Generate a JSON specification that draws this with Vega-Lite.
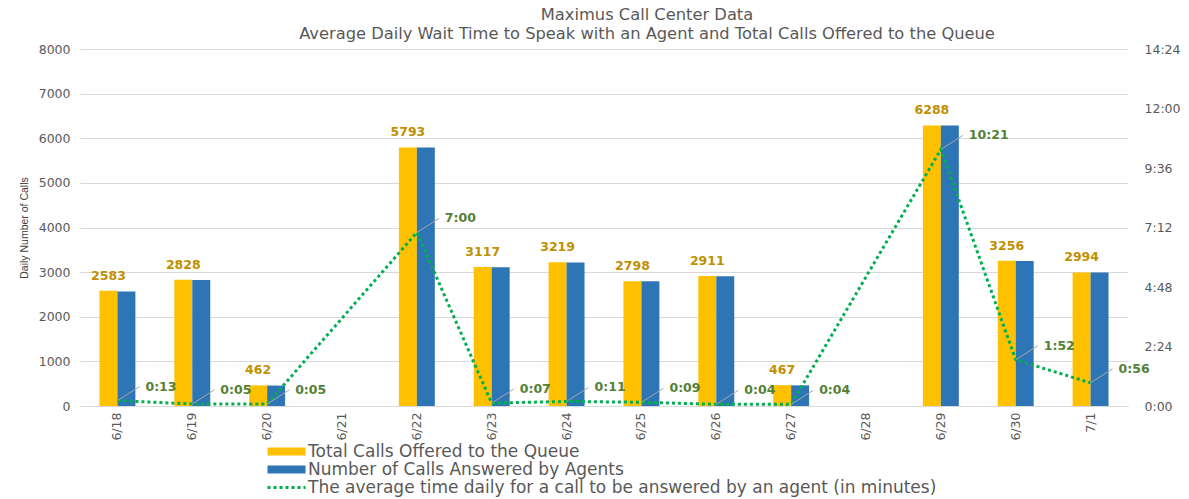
{
  "$schema": "https://vega.github.io/schema/vega-lite/v6.json",
  "autosize": {"type": "none"},
  "padding": {"left": 80, "top": 49, "right": 61, "bottom": 93},
  "width": 1048,
  "height": 357,
  "background": "#ffffff",
  "config": {
    "font": "DejaVu Sans",
    "view": {"stroke": null},
    "axis": {"labelFont": "DejaVu Sans", "labelFontSize": 12.5, "labelColor": "#595959", "ticks": false, "gridColor": "#D9D9D9", "domainColor": "#D9D9D9"}
  },
  "title": {
    "text": ["Maximus Call Center Data", "Average Daily Wait Time to Speak with an Agent and Total Calls Offered to the Queue"],
    "font": "DejaVu Sans", "fontSize": 16.3, "fontWeight": "normal", "color": "#595959",
    "anchor": "middle", "dx": 43, "offset": 1, "lineHeight": 19
  },
  "datasets": {
    "calls": [
      {"date": "6/18", "series": "Total Calls Offered to the Queue", "calls": 2583},
      {"date": "6/18", "series": "Number of Calls Answered by Agents", "calls": 2565},
      {"date": "6/19", "series": "Total Calls Offered to the Queue", "calls": 2828},
      {"date": "6/19", "series": "Number of Calls Answered by Agents", "calls": 2822},
      {"date": "6/20", "series": "Total Calls Offered to the Queue", "calls": 462},
      {"date": "6/20", "series": "Number of Calls Answered by Agents", "calls": 458},
      {"date": "6/22", "series": "Total Calls Offered to the Queue", "calls": 5793},
      {"date": "6/22", "series": "Number of Calls Answered by Agents", "calls": 5790},
      {"date": "6/23", "series": "Total Calls Offered to the Queue", "calls": 3117},
      {"date": "6/23", "series": "Number of Calls Answered by Agents", "calls": 3110},
      {"date": "6/24", "series": "Total Calls Offered to the Queue", "calls": 3219},
      {"date": "6/24", "series": "Number of Calls Answered by Agents", "calls": 3215},
      {"date": "6/25", "series": "Total Calls Offered to the Queue", "calls": 2798},
      {"date": "6/25", "series": "Number of Calls Answered by Agents", "calls": 2795},
      {"date": "6/26", "series": "Total Calls Offered to the Queue", "calls": 2911},
      {"date": "6/26", "series": "Number of Calls Answered by Agents", "calls": 2905},
      {"date": "6/27", "series": "Total Calls Offered to the Queue", "calls": 467},
      {"date": "6/27", "series": "Number of Calls Answered by Agents", "calls": 463},
      {"date": "6/29", "series": "Total Calls Offered to the Queue", "calls": 6288},
      {"date": "6/29", "series": "Number of Calls Answered by Agents", "calls": 6283},
      {"date": "6/30", "series": "Total Calls Offered to the Queue", "calls": 3256},
      {"date": "6/30", "series": "Number of Calls Answered by Agents", "calls": 3250},
      {"date": "7/1", "series": "Total Calls Offered to the Queue", "calls": 2994},
      {"date": "7/1", "series": "Number of Calls Answered by Agents", "calls": 2990}
    ],
    "wait": [
      {"date": "6/18", "seconds": 13, "label": "0:13"},
      {"date": "6/19", "seconds": 5, "label": "0:05"},
      {"date": "6/20", "seconds": 5, "label": "0:05"},
      {"date": "6/22", "seconds": 420, "label": "7:00"},
      {"date": "6/23", "seconds": 7, "label": "0:07"},
      {"date": "6/24", "seconds": 11, "label": "0:11"},
      {"date": "6/25", "seconds": 9, "label": "0:09"},
      {"date": "6/26", "seconds": 4, "label": "0:04"},
      {"date": "6/27", "seconds": 4, "label": "0:04"},
      {"date": "6/29", "seconds": 621, "label": "10:21"},
      {"date": "6/30", "seconds": 112, "label": "1:52"},
      {"date": "7/1", "seconds": 56, "label": "0:56"}
    ]
  },
  "encoding": {
    "x": {
      "field": "date", "type": "nominal", "title": null,
      "scale": {"domain": ["6/18","6/19","6/20","6/21","6/22","6/23","6/24","6/25","6/26","6/27","6/28","6/29","6/30","7/1"], "paddingInner": 0.52, "paddingOuter": 0.26},
      "axis": {"labelAngle": -90, "labelPadding": 6, "domain": true, "grid": false}
    }
  },
  "layer": [
    {
      "layer": [
        {
          "data": {"name": "calls"},
          "mark": {"type": "bar"},
          "encoding": {
            "xOffset": {"field": "series", "type": "nominal", "scale": {"domain": ["Total Calls Offered to the Queue", "Number of Calls Answered by Agents"], "paddingInner": 0, "paddingOuter": 0}},
            "y": {"field": "calls", "type": "quantitative", "title": "Daily Number of Calls",
              "scale": {"domain": [0, 8000], "nice": false},
              "axis": {"values": [0,1000,2000,3000,4000,5000,6000,7000,8000], "format": "d", "domain": false, "labelPadding": 10, "titleFont": "Liberation Sans", "titleFontSize": 10.5, "titleFontWeight": "normal", "titleColor": "#404040", "titlePadding": 9}},
            "color": {"field": "series", "type": "nominal",
              "scale": {"domain": ["Total Calls Offered to the Queue", "Number of Calls Answered by Agents", "The average time daily for a call to be answered by an agent (in minutes)"], "range": ["#FFC000", "#2E75B6", "#00B050"]},
              "legend": {
                "orient": "none", "legendX": 198, "legendY": 394, "title": null,
                "symbolSize": 1444, "labelFont": "DejaVu Sans", "labelFontSize": 17, "labelColor": "#595959", "rowPadding": 0, "labelOffset": 13, "labelLimit": 900,
                "encode": {"symbols": {"update": {
                  "shape": {"signal": "datum.value === 'The average time daily for a call to be answered by an agent (in minutes)' ? 'stroke' : 'M-1,-0.21H1V0.21H-1Z'"},
                  "size": {"value": 1444},
                  "fill": {"signal": "datum.value === 'The average time daily for a call to be answered by an agent (in minutes)' ? 'transparent' : scale('color', datum.value)"},
                  "stroke": {"signal": "scale('color', datum.value)"},
                  "strokeWidth": {"signal": "datum.value === 'The average time daily for a call to be answered by an agent (in minutes)' ? 3 : 0"},
                  "strokeDash": {"signal": "datum.value === 'The average time daily for a call to be answered by an agent (in minutes)' ? [3, 3] : []"},
                  "opacity": {"value": 1}
                }}}
              }}
          }
        },
        {
          "data": {"name": "calls"},
          "transform": [{"filter": "datum.series === 'Total Calls Offered to the Queue'"}],
          "mark": {"type": "text", "dy": -8, "baseline": "bottom", "fontWeight": "bold", "fontSize": 12.5, "color": "#BF9000", "font": "DejaVu Sans"},
          "encoding": {
            "xOffset": {"field": "series", "type": "nominal"},
            "y": {"field": "calls", "type": "quantitative"},
            "text": {"field": "calls", "type": "quantitative"}
          }
        }
      ]
    },
    {
      "layer": [
        {
          "data": {"name": "wait"},
          "mark": {"type": "line", "strokeDash": [3, 3], "strokeWidth": 3},
          "encoding": {
            "y": {"field": "seconds", "type": "quantitative", "scale": {"domain": [0, 864], "nice": false},
              "axis": {"orient": "right", "title": null, "grid": false, "domain": false, "values": [0,144,288,432,576,720,864], "labelPadding": 16,
                "labelExpr": "floor(datum.value/60) + ':' + (datum.value % 60 < 10 ? '0' : '') + (datum.value % 60)"}},
            "color": {"datum": "The average time daily for a call to be answered by an agent (in minutes)"}
          }
        },
        {
          "data": {"name": "wait"},
          "mark": {"type": "rule", "color": "#A6A6A6", "strokeWidth": 1, "x2Offset": 22, "y2Offset": -14},
          "encoding": {
            "y": {"field": "seconds", "type": "quantitative"},
            "y2": {"field": "seconds"},
            "x2": {"field": "date"}
          }
        },
        {
          "data": {"name": "wait"},
          "mark": {"type": "text", "align": "left", "dx": 28, "dy": -14, "fontWeight": "bold", "fontSize": 12.5, "color": "#538135", "font": "DejaVu Sans"},
          "encoding": {
            "y": {"field": "seconds", "type": "quantitative"},
            "text": {"field": "label"}
          }
        }
      ]
    }
  ],
  "resolve": {"scale": {"y": "independent"}}
}
